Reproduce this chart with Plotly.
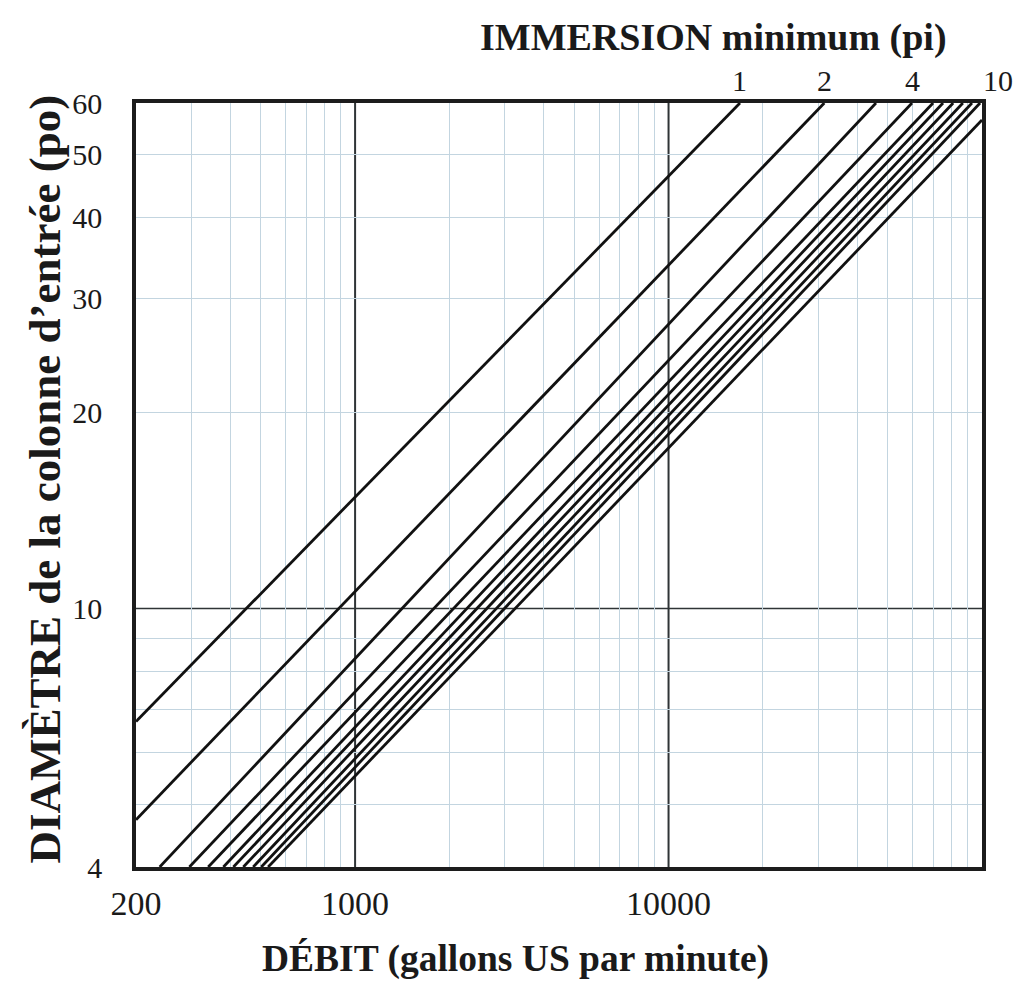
import math
import plotly.graph_objects as go

# ---- data (flow in US gpm, diameter in inches) ----
# each immersion line is a straight segment between a start and an end point
q_start = [200, 200, 238, 296, 340, 380, 409, 440, 473, 502, 528]
d_start = [6.7, 4.73, 4, 4, 4, 4, 4, 4, 4, 4, 4]
q_end = [16900, 31400, 45900, 59800, 69800, 75100, 80900, 86900, 92900, 98600, 100000]
d_end = [60, 60, 60, 60, 60, 60, 60, 60, 60, 60, 56.5]
# immersion labels shown above the chart (index of line -> label)
immersion_labels = {0: "1", 1: "2", 3: "4", 10: "10"}

x_ticks = [200, 1000, 10000, 100000]
x_minor = [300, 400, 500, 600, 700, 800, 900,
           2000, 3000, 4000, 5000, 6000, 7000, 8000, 9000,
           20000, 30000, 40000, 50000, 60000, 70000, 80000, 90000]
x_major_lines = [1000, 10000]
y_ticks = [4, 10, 20, 30, 40, 50, 60]
y_minor = [5, 6, 7, 8, 9, 20, 30, 40, 50]
y_major_lines = [10]

X_RANGE = [math.log10(200), 5]
Y_RANGE = [math.log10(4), math.log10(60)]

FONT = "Liberation Serif"
INK = "#1a1a1a"
GRID = "#c3d5e0"

fig = go.Figure()
for i in range(len(q_start)):
    fig.add_trace(go.Scatter(
        x=[q_start[i], q_end[i]], y=[d_start[i], d_end[i]],
        mode="lines", line=dict(color="#111111", width=2.8),
        showlegend=False, hoverinfo="skip"))

# major reference lines
for xv in x_major_lines:
    fig.add_shape(type="line", xref="x", yref="paper", x0=xv, x1=xv, y0=0, y1=1,
                  line=dict(color="#2f3436", width=2), layer="below")
for yv in y_major_lines:
    fig.add_shape(type="line", xref="paper", yref="y", x0=0, x1=1, y0=yv, y1=yv,
                  line=dict(color="#2f3436", width=1.6), layer="below")

# immersion labels above the plot, where each line (extended) reaches the top value
ymax = 60
for idx, lab in immersion_labels.items():
    lx0, lx1 = math.log10(q_start[idx]), math.log10(q_end[idx])
    ly0, ly1 = math.log10(d_start[idx]), math.log10(d_end[idx])
    slope = (ly1 - ly0) / (lx1 - lx0)
    xt = lx1 + (math.log10(ymax) - ly1) / slope
    xp = (xt - X_RANGE[0]) / (X_RANGE[1] - X_RANGE[0])
    fig.add_annotation(x=xp, y=1, xref="paper", yref="paper", text=lab, showarrow=False,
                       xanchor="center", yanchor="bottom", yshift=4,
                       font=dict(family=FONT, size=30, color=INK))

fig.add_annotation(text="<b>IMMERSION minimum (pi)</b>", xref="paper", yref="paper",
                   x=0.683, y=1.086, showarrow=False, xanchor="center", yanchor="middle",
                   font=dict(family=FONT, size=38, color=INK))
fig.add_annotation(text="<b>DÉBIT (gallons US par minute)</b>", xref="paper", yref="paper",
                   x=0.449, y=-0.12, showarrow=False, xanchor="center", yanchor="middle",
                   font=dict(family=FONT, size=37.5, color=INK))
fig.add_annotation(text="<b>DIAMÈTRE de la colonne d’entrée (po)</b>", xref="paper", yref="paper",
                   x=-0.108, y=0.508, showarrow=False, textangle=-90,
                   xanchor="center", yanchor="middle",
                   font=dict(family=FONT, size=45, color=INK))

fig.update_xaxes(type="log", range=X_RANGE,
                 tickvals=x_ticks, ticktext=[str(v) for v in x_ticks],
                 ticks="", showgrid=False, zeroline=False,
                 showline=True, mirror=True, linecolor="#1c1c1c", linewidth=3.5,
                 tickfont=dict(family=FONT, size=34, color=INK),
                 ticklabelstandoff=3,
                 minor=dict(tickvals=x_minor, showgrid=True, gridcolor=GRID, gridwidth=1, ticks=""))
fig.update_yaxes(type="log", range=Y_RANGE,
                 tickvals=y_ticks, ticktext=[str(v) for v in y_ticks],
                 ticks="", showgrid=False, zeroline=False,
                 showline=True, mirror=True, linecolor="#1c1c1c", linewidth=3.5,
                 tickfont=dict(family=FONT, size=30, color=INK),
                 ticklabelstandoff=24,
                 minor=dict(tickvals=y_minor, showgrid=True, gridcolor=GRID, gridwidth=1, ticks=""))

fig.update_layout(width=1031, height=985,
                  margin=dict(l=136, r=49, t=103, b=118),
                  paper_bgcolor="white", plot_bgcolor="white")

fig.write_html("out.html")
